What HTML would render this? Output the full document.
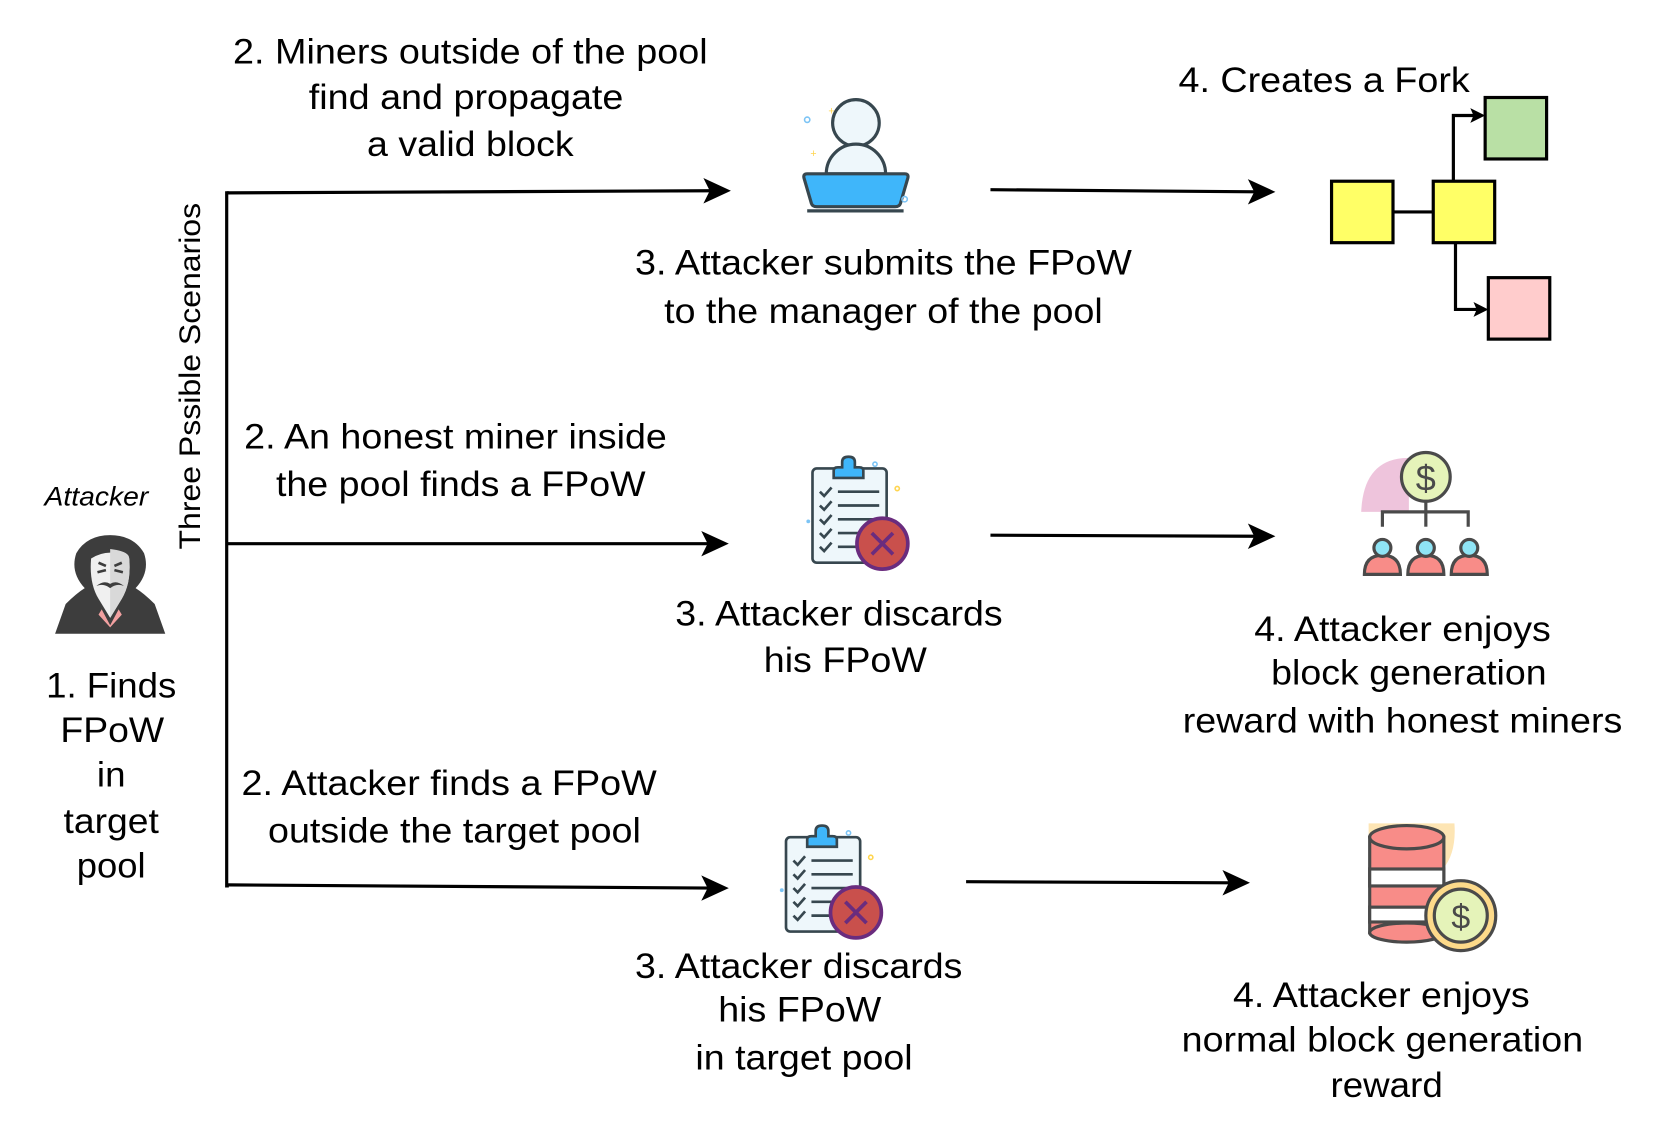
<!DOCTYPE html>
<html><head><meta charset="utf-8"><style>
html,body{margin:0;padding:0;background:#fff;width:1661px;height:1135px;overflow:hidden}
svg{display:block}
text{font-family:"Liberation Sans",Arial,sans-serif;fill:#000}
</style></head><body>
<svg width="1661" height="1135" viewBox="0 0 1568 1071" preserveAspectRatio="none" xmlns="http://www.w3.org/2000/svg">
<g stroke="#000" stroke-width="3" fill="none">
<polyline points="216,182 214,182 214,836 216,836"/>
<line x1="214" y1="182" x2="672" y2="180"/>
<line x1="214" y1="513" x2="670" y2="513"/>
<line x1="214" y1="835" x2="670" y2="838"/>
<line x1="935" y1="179" x2="1187" y2="181"/>
<line x1="935" y1="505" x2="1187" y2="506"/>
<line x1="912" y1="832" x2="1164" y2="833"/>
</g>
<g fill="#000">
<polygon points="690,180 664,168 670,180 664,192"/>
<polygon points="688,513 662,501 668,513 662,525"/>
<polygon points="688,838 662,826 668,838 662,850"/>
<polygon points="1204,181 1178,169 1184,181 1178,193"/>
<polygon points="1204,506 1178,494 1184,506 1178,518"/>
<polygon points="1180,833 1154,821 1160,833 1154,845"/>
</g>
<!-- fork -->
<g stroke="#000" stroke-width="3" fill="none">
<line x1="1315" y1="200" x2="1353" y2="200"/>
<polyline points="1372,171 1372,109 1392,109"/>
<polyline points="1374,229 1374,292 1394,292"/>
</g>
<polygon points="1402,109 1388,102 1391,109 1388,116" fill="#000"/>
<polygon points="1405,292 1391,285 1394,292 1391,299" fill="#000"/>
<g stroke="#000" stroke-width="3">
<rect x="1257" y="171" width="58" height="58" fill="#ffff66"/>
<rect x="1353" y="171" width="58" height="58" fill="#ffff66"/>
<rect x="1402" y="92" width="58" height="58" fill="#b9e0a5"/>
<rect x="1405" y="262" width="58" height="58" fill="#ffcccc"/>
</g>
<!-- person laptop -->
<g stroke="#37474f" stroke-width="3">
<circle cx="808" cy="116" r="22" fill="#eef7fb"/>
<path d="M780,164 A28,28 0 0 1 836,164 Z" fill="#eef7fb"/>
<path d="M762,164 L854,164 Q858,164 857,168 L850,192 Q849,195 845,195 L771,195 Q767,195 766,192 L759,168 Q758,164 762,164 Z" fill="#3fb6fa"/>
<line x1="762" y1="199" x2="853" y2="199"/>
</g>
<circle cx="762" cy="113" r="2.5" fill="none" stroke="#7cc4f5" stroke-width="1.5"/>
<circle cx="854" cy="188" r="2.5" fill="none" stroke="#7cc4f5" stroke-width="1.5"/>
<text x="782" y="108" font-size="10" style="fill:#ffd54f">+</text>
<text x="765" y="148" font-size="10" style="fill:#ffd54f">+</text>
<!-- clipboard icon -->
<g id="clip">
<rect x="767" y="442" width="70" height="89" rx="4" fill="#eef7fb" stroke="#37474f" stroke-width="2.5"/>
<path d="M787,451 L787,444 Q787,441 791,441 L795,441 L795,436 Q795,431 801,431 Q807,431 807,436 L807,441 L811,441 Q815,441 815,444 L815,451 Z" fill="#3fb6fa" stroke="#37474f" stroke-width="2.5"/>
<g stroke="#37474f" stroke-width="2.5" fill="none">
<polyline points="774,464 778,468 785,460"/><line x1="791" y1="464" x2="830" y2="464"/>
<polyline points="774,477 778,481 785,473"/><line x1="791" y1="477" x2="830" y2="477"/>
<polyline points="774,490 778,494 785,486"/><line x1="791" y1="490" x2="830" y2="490"/>
<polyline points="774,503 778,507 785,499"/><line x1="791" y1="503" x2="820" y2="503"/>
<polyline points="774,516 778,520 785,512"/><line x1="791" y1="516" x2="815" y2="516"/>
</g>
<circle cx="833" cy="513" r="24" fill="#c9504c" stroke="#6a2c7e" stroke-width="3.5"/>
<path d="M823,503 L843,523 M843,503 L823,523" stroke="#6a2c7e" stroke-width="3.5"/>
<circle cx="826" cy="438" r="2" fill="none" stroke="#7cc4f5" stroke-width="1.5"/>
<circle cx="847" cy="461" r="2" fill="none" stroke="#ffd54f" stroke-width="1.5"/>
<circle cx="763" cy="492" r="1.8" fill="#7cc4f5"/>
</g>
<use href="#clip" transform="translate(-25,348)"/>
<!-- org chart -->
<path d="M1285,483 Q1287,432 1330,432 L1330,483 Z" fill="#eec4dc"/>
<g stroke="#4a4a4a" stroke-width="3" fill="none">
<polyline points="1346,470 1346,482"/>
<polyline points="1305,497 1305,483 1386,483 1386,497"/>
<line x1="1346" y1="483" x2="1346" y2="497"/>
</g>
<circle cx="1346" cy="450" r="23" fill="#e5f3b9" stroke="#4a4a4a" stroke-width="3"/>
<text x="1346" y="463" font-size="34" text-anchor="middle" style="fill:#4a4a4a">$</text>
<g stroke="#4a4a4a" stroke-width="3">
<g id="pp"><path d="M1288,542 Q1288,524 1305,524 Q1322,524 1322,542 Z" fill="#f88c88"/><circle cx="1305" cy="517" r="8" fill="#8fe4f5"/></g>
<use href="#pp" transform="translate(41,0)"/>
<use href="#pp" transform="translate(82,0)"/>
</g>
<!-- db coins -->
<path d="M1292,777 L1373,777 Q1375,805 1362,820 L1292,820 Z" fill="#fde5b4"/>
<g stroke="#4a4a4a" stroke-width="3">
<rect x="1293" y="790" width="70" height="90" fill="#f88c88"/>
<rect x="1293" y="820" width="70" height="16" fill="#fff"/>
<rect x="1293" y="856" width="70" height="14" fill="#fff"/>
<ellipse cx="1328" cy="880" rx="35" ry="9" fill="#f88c88"/>
<ellipse cx="1328" cy="790" rx="35" ry="11" fill="#f88c88"/>
<circle cx="1379" cy="864" r="33" fill="#fdda8a"/>
<circle cx="1379" cy="864" r="25" fill="#e5f3b9"/>
</g>
<text x="1379" y="876" font-size="32" text-anchor="middle" style="fill:#4a4a4a">$</text>
<!-- hacker -->
<path d="M52,598 L62,570 Q72,560 80,555 Q66,540 72,522 Q82,505 104,505 Q126,505 136,522 Q142,540 128,555 Q136,560 146,570 L156,598 Z" fill="#3d3d3d"/>
<path d="M86,527 Q104,516 122,527 Q124,550 115,565 L104,583 L93,565 Q84,550 86,527 Z" fill="#f0f0f0"/>
<path d="M104,518 Q122,520 122,527 Q124,550 115,565 L104,583 Z" fill="#d9d9d9"/>
<path d="M96,575 L104,590 L112,575 L115,580 L104,592 L93,580 Z" fill="#f2a0a0"/>
<path d="M91,553 Q98,547 104,551 Q110,547 117,553 Q110,550 104,555 Q98,550 91,553 Z" fill="#3d3d3d"/>
<path d="M92,540 L100,538 M108,538 L116,540 M93,531 L100,534 M115,531 L108,534" stroke="#3d3d3d" stroke-width="2.5"/>
<!-- text -->
<g font-size="33" text-anchor="middle" lengthAdjust="spacingAndGlyphs">
<text x="444" y="60" textLength="448" lengthAdjust="spacingAndGlyphs">2. Miners outside of the pool</text>
<text x="440" y="103" textLength="297" lengthAdjust="spacingAndGlyphs">find and propagate</text>
<text x="444" y="147" textLength="195" lengthAdjust="spacingAndGlyphs">a valid block</text>
<text x="1250" y="87" textLength="275" lengthAdjust="spacingAndGlyphs">4. Creates a Fork</text>
<text x="834" y="259" textLength="469" lengthAdjust="spacingAndGlyphs">3. Attacker submits the FPoW</text>
<text x="834" y="305" textLength="414" lengthAdjust="spacingAndGlyphs">to the manager of the pool</text>
<text x="430" y="423" textLength="399" lengthAdjust="spacingAndGlyphs">2. An honest miner inside</text>
<text x="435" y="468" textLength="349" lengthAdjust="spacingAndGlyphs">the pool finds a FPoW</text>
<text x="792" y="590" textLength="309" lengthAdjust="spacingAndGlyphs">3. Attacker discards</text>
<text x="798" y="634" textLength="154" lengthAdjust="spacingAndGlyphs">his FPoW</text>
<text x="1324" y="605" textLength="280" lengthAdjust="spacingAndGlyphs">4. Attacker enjoys</text>
<text x="1330" y="646" textLength="260" lengthAdjust="spacingAndGlyphs">block generation</text>
<text x="1324" y="691" textLength="415" lengthAdjust="spacingAndGlyphs">reward with honest miners</text>
<text x="424" y="750" textLength="392" lengthAdjust="spacingAndGlyphs">2. Attacker finds a FPoW</text>
<text x="429" y="795" textLength="352" lengthAdjust="spacingAndGlyphs">outside the target pool</text>
<text x="754" y="923" textLength="309" lengthAdjust="spacingAndGlyphs">3. Attacker discards</text>
<text x="755" y="964" textLength="154" lengthAdjust="spacingAndGlyphs">his FPoW</text>
<text x="759" y="1009" textLength="205" lengthAdjust="spacingAndGlyphs">in target pool</text>
<text x="1304" y="950" textLength="280" lengthAdjust="spacingAndGlyphs">4. Attacker enjoys</text>
<text x="1305" y="992" textLength="379" lengthAdjust="spacingAndGlyphs">normal block generation</text>
<text x="1309" y="1035" textLength="106" lengthAdjust="spacingAndGlyphs">reward</text>
<text x="105" y="658" textLength="123" lengthAdjust="spacingAndGlyphs">1. Finds</text>
<text x="106" y="700" textLength="98" lengthAdjust="spacingAndGlyphs">FPoW</text>
<text x="105" y="742" textLength="27" lengthAdjust="spacingAndGlyphs">in</text>
<text x="105" y="786" textLength="90" lengthAdjust="spacingAndGlyphs">target</text>
<text x="105" y="828" textLength="65" lengthAdjust="spacingAndGlyphs">pool</text>
</g>
<text x="91" y="477" font-size="25" font-style="italic" text-anchor="middle" textLength="98" lengthAdjust="spacingAndGlyphs">Attacker</text>
<text transform="translate(189,355) rotate(-90)" font-size="28" text-anchor="middle" textLength="327" lengthAdjust="spacingAndGlyphs">Three Pssible Scenarios</text>
</svg>
</body></html>
